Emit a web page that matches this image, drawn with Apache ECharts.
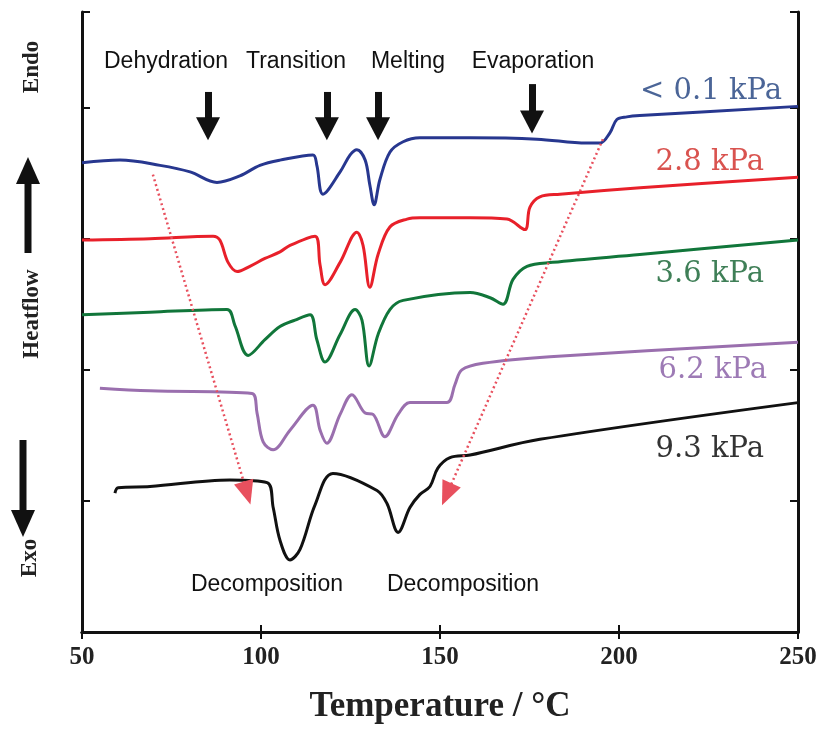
<!DOCTYPE html>
<html>
<head>
<meta charset="utf-8">
<title>DSC heatflow vs temperature</title>
<script src="https://cdn.jsdelivr.net/npm/echarts@6/dist/echarts.min.js"></script>
<style>
  html, body { margin: 0; padding: 0; background: #fff; }
  #chart { width: 825px; height: 729px; }
</style>
</head>
<body>
<div id="chart"></div>
<script>
// x axis ticks (°C)
const tempTicks = [50, 100, 150, 200, 250];
const pressureLabels = ['< 0.1 kPa', '2.8 kPa', '3.6 kPa', '6.2 kPa', '9.3 kPa'];

// < 0.1 kPa
const tempA = [50, 60.6, 71.8, 80.2, 87.7, 94.1, 99.7, 105.3, 114.5, 115.6, 117.3, 122.1, 124.9, 126.8, 129.1, 130.4, 131.6, 133.2, 136.0, 139.7, 144.4, 158.4, 177.1, 191.0, 194.7, 197.5, 199.4, 202.2, 205.8, 250];
const flowA = [3.58, 3.60, 3.56, 3.51, 3.43, 3.48, 3.56, 3.60, 3.64, 3.56, 3.34, 3.51, 3.64, 3.68, 3.60, 3.41, 3.26, 3.45, 3.66, 3.74, 3.77, 3.77, 3.76, 3.73, 3.73, 3.81, 3.91, 3.93, 3.94, 4.01];

// 2.8 kPa
const tempB = [50, 69.0, 86.6, 88.5, 90.8, 93.3, 96.9, 101.1, 105.3, 108.1, 115.1, 116.5, 117.9, 122.1, 126.8, 128.5, 130.4, 132.7, 136.0, 140.8, 144.4, 158.4, 168.7, 173.7, 175.1, 177.9, 183.5, 205.9, 250];
const flowB = [2.99, 3.00, 3.02, 2.99, 2.82, 2.75, 2.79, 2.85, 2.90, 2.95, 3.02, 2.80, 2.65, 2.82, 3.05, 2.95, 2.63, 2.88, 3.09, 3.15, 3.16, 3.16, 3.15, 3.07, 3.24, 3.32, 3.34, 3.39, 3.47];

// 3.6 kPa
const tempC = [50, 69.0, 90.5, 92.7, 96.4, 101.1, 105.3, 109.5, 113.7, 115.6, 117.9, 122.1, 126.3, 128.2, 130.2, 132.7, 136.0, 139.7, 158.4, 164.0, 167.6, 170.4, 174.3, 181.5, 205.8, 250];
const flowC = [2.42, 2.44, 2.46, 2.34, 2.11, 2.23, 2.33, 2.38, 2.42, 2.23, 2.06, 2.27, 2.46, 2.38, 2.03, 2.27, 2.46, 2.53, 2.59, 2.55, 2.50, 2.69, 2.79, 2.82, 2.88, 2.99];

// 6.2 kPa
const tempD = [55.0, 69.0, 97.5, 98.9, 100.6, 103.4, 108.1, 114.5, 116.5, 118.4, 122.1, 125.4, 129.1, 131.3, 134.6, 138.3, 141.6, 151.9, 154.2, 156.1, 162.0, 180.7, 250];
const flowD = [1.86, 1.84, 1.82, 1.67, 1.45, 1.39, 1.54, 1.73, 1.54, 1.44, 1.66, 1.81, 1.67, 1.66, 1.49, 1.66, 1.75, 1.75, 1.89, 2.00, 2.05, 2.10, 2.21];

// 9.3 kPa
const tempE = [59.2, 60.1, 69.0, 91.3, 101.7, 103.4, 105.3, 108.1, 110.9, 115.1, 120.1, 132.4, 135.2, 138.3, 141.6, 144.4, 147.2, 149.4, 152.8, 158.4, 177.9, 250];
const flowE = [1.06, 1.10, 1.11, 1.16, 1.14, 0.95, 0.70, 0.55, 0.63, 0.97, 1.21, 1.08, 0.98, 0.76, 0.95, 1.05, 1.11, 1.25, 1.33, 1.35, 1.47, 1.75];

// event arrows (Dehydration, Transition, Melting, Evaporation)
const eventTemps = [85.2, 118.4, 132.7, 175.7];
const eventTop = [4.12, 4.12, 4.12, 4.18];
const eventHead = [3.84, 3.84, 3.84, 3.89];

// decomposition guide lines: [fromT, fromV, toT, toV]
const decompLines = [[69.8, 3.49, 96.1, 1.06], [195.5, 3.76, 151.9, 1.05]];

const lineColors = ['#27378f', '#e8202a', '#11763a', '#9a6fae', '#111111'];
const labelColors = ['#4b6597', '#d9534f', '#3f7f57', '#9d7ab5', '#333333'];

const zip = (xs, ys) => xs.map((x, i) => [x, ys[i]]);
const curves = [zip(tempA, flowA), zip(tempB, flowB), zip(tempC, flowC), zip(tempD, flowD), zip(tempE, flowE)];

const chart = echarts.init(document.getElementById('chart'));

const serifAxis = { fontFamily: '"Liberation Serif", serif', fontWeight: 'bold', color: '#222' };
const frameLine = { show: true, lineStyle: { color: '#111', width: 3 } };
const frameTick = { show: true, inside: true, length: 7, lineStyle: { color: '#111', width: 2 } };

const series = curves.map((data, i) => ({
  name: pressureLabels[i],
  type: 'line',
  data: data,
  showSymbol: false,
  smooth: 0.35,
  lineStyle: { color: lineColors[i], width: 3 },
  z: 3
}));

// event arrows + decomposition guides as markLines on a helper series
series.push({
  type: 'line',
  data: [],
  silent: true,
  markLine: {
    silent: true,
    animation: false,
    label: { show: false },
    emphasis: { disabled: true },
    data: eventTemps.map((t, i) => [
      { coord: [t, eventTop[i]], symbol: 'none', lineStyle: { color: '#111', width: 7, type: 'solid' }, itemStyle: { color: '#111' } },
      { coord: [t, eventHead[i]], symbol: 'triangle', symbolSize: [24, 23] }
    ]).concat(decompLines.map(d => [
      { coord: [d[0], d[1]], symbol: 'none', lineStyle: { color: '#e8505e', width: 2.5, type: [2, 3] }, itemStyle: { color: '#f0141e' } },
      { coord: [d[2], d[3]], symbol: 'triangle', symbolSize: [20, 24] }
    ]))
  },
  z: 4
});

const topNotes = [
  { text: 'Dehydration', x: 166 },
  { text: 'Transition', x: 296 },
  { text: 'Melting', x: 408 },
  { text: 'Evaporation', x: 533 }
];
const sideLabelPos = [[782, 91], [764, 162], [764, 274], [767, 370], [764, 449]];

const graphic = [];
topNotes.forEach(n => graphic.push({
  type: 'text', x: n.x, y: 62,
  style: { text: n.text, fontFamily: '"Liberation Sans", Arial, sans-serif', fontSize: 23, fill: '#111', align: 'center', verticalAlign: 'middle' }
}));
[['Decomposition', 267], ['Decomposition', 463]].forEach(d => graphic.push({
  type: 'text', x: d[1], y: 585,
  style: { text: d[0], fontFamily: '"Liberation Sans", Arial, sans-serif', fontSize: 23, fill: '#111', align: 'center', verticalAlign: 'middle' }
}));
pressureLabels.forEach((p, i) => graphic.push({
  type: 'text', x: sideLabelPos[i][0], y: sideLabelPos[i][1],
  style: { text: p, fontFamily: '"DejaVu Serif", serif', fontSize: 29, fill: labelColors[i], align: 'right', verticalAlign: 'middle' }
}));
// left side: Endo / Heatflow / Exo with arrows
[['Endo', 32, 67], ['Heatflow', 32, 314], ['Exo', 30, 558]].forEach(t => graphic.push({
  type: 'text', x: t[1], y: t[2], rotation: Math.PI / 2,
  style: { text: t[0], fontFamily: '"Liberation Serif", serif', fontWeight: 'bold', fontSize: 23, fill: '#222', align: 'center', verticalAlign: 'middle' }
}));
graphic.push(
  { type: 'line', shape: { x1: 28, y1: 253, x2: 28, y2: 178 }, style: { stroke: '#111', lineWidth: 7 } },
  { type: 'polygon', shape: { points: [[16, 184], [40, 184], [28, 157]] }, style: { fill: '#111' } },
  { type: 'line', shape: { x1: 23, y1: 440, x2: 23, y2: 515 }, style: { stroke: '#111', lineWidth: 7 } },
  { type: 'polygon', shape: { points: [[11, 510], [35, 510], [23, 537]] }, style: { fill: '#111' } }
);

chart.setOption({
  animation: false,
  backgroundColor: '#fff',
  grid: { left: 82, right: 27, top: 12, bottom: 97 },
  xAxis: [
    {
      type: 'value', min: tempTicks[0], max: tempTicks[tempTicks.length - 1], interval: 50,
      axisLine: frameLine, axisTick: frameTick, splitLine: { show: false },
      axisLabel: Object.assign({ fontSize: 25, margin: 13 }, serifAxis),
      name: 'Temperature / °C', nameLocation: 'middle', nameGap: 57,
      nameTextStyle: Object.assign({}, serifAxis, { fontSize: 35 })
    },
    {
      type: 'value', position: 'top', min: 50, max: 250, interval: 50,
      axisLine: frameLine, axisTick: frameTick, splitLine: { show: false }, axisLabel: { show: false }
    }
  ],
  yAxis: [
    {
      type: 'value', min: 0, max: 4.73, interval: 1,
      axisLine: frameLine, axisTick: Object.assign({}, frameTick, { length: 8 }),
      splitLine: { show: false }, axisLabel: { show: false }
    },
    {
      type: 'value', position: 'right', min: 0, max: 4.73, interval: 1,
      axisLine: frameLine, axisTick: Object.assign({}, frameTick, { length: 8 }),
      splitLine: { show: false }, axisLabel: { show: false }
    }
  ],
  series: series,
  graphic: graphic
});
</script>
</body>
</html>
